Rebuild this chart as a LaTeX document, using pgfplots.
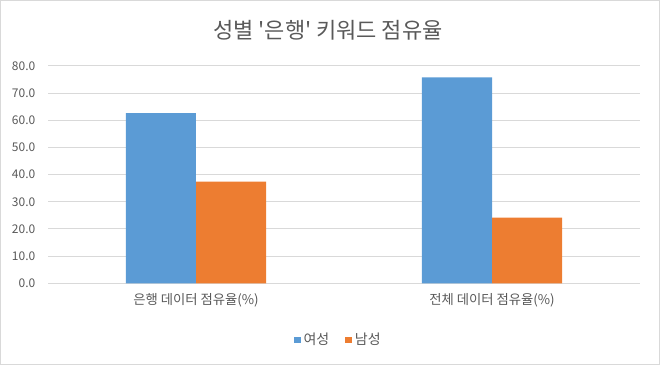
\documentclass[border=0pt]{standalone}
\usepackage{pgfplots}
\pgfplotsset{compat=1.18}
\usepackage{fontspec}
\setmainfont{Noto Sans CJK KR}
\definecolor{cblue}{HTML}{5B9BD5}
\definecolor{corange}{HTML}{ED7D31}
\definecolor{cgrid}{HTML}{D9D9D9}
\definecolor{ctext}{HTML}{595959}
\begin{document}
\begin{tikzpicture}
\path[use as bounding box] (0,0) rectangle (495pt,273.75pt);
\draw[cgrid, line width=0.75pt] (0.4pt,0.4pt) rectangle (494.6pt,273.35pt);
\node[ctext, font=\fontsize{16.5pt}{18pt}\selectfont] at (246pt,251pt) {성별 \textquotesingle 은행\textquotesingle{} 키워드 점유율};
\begin{axis}[
  at={(36pt,61.3pt)}, anchor=south west,
  scale only axis, width=444pt, height=163pt,
  ymin=0, ymax=80, ytick={0,10,...,80},
  xmin=-0.5, xmax=1.5,
  xtick={0,1}, xticklabels={은행 데이터 점유율(\%), 전체 데이터 점유율(\%)},
  axis line style={draw=none},
  major tick length=0pt,
  ymajorgrids, grid style={cgrid, line width=0.75pt},
  /pgf/number format/assume math mode=true,
  yticklabel={\pgfmathprintnumber[fixed,fixed zerofill,precision=1]{\tick}},
  tick label style={ctext, font=\fontsize{9pt}{11pt}\selectfont},
  xticklabel style={font=\fontsize{10pt}{12pt}\selectfont, yshift=-4pt},
  yticklabel style={xshift=-6pt},
  ybar, bar width=0.2365,
  legend style={at={(0.5,-0.261)}, anchor=center, draw=none, legend columns=2,
    font=\fontsize{10.5pt}{12pt}\selectfont, text=ctext, xshift=-4pt,
    /tikz/every even column/.append style={column sep=10pt}},
  legend image code/.code={\fill[#1] (0pt,-2.6pt) rectangle (5.2pt,2.6pt);},
  clip=false,
]
\addplot[fill=cblue, draw=none, bar shift=-0.11825] coordinates {(0,62.6) (1,75.8)};
\addplot[fill=corange, draw=none, bar shift=0.11825] coordinates {(0,37.4) (1,24.2)};
\legend{여성, 남성}
\end{axis}
\end{tikzpicture}
\end{document}
